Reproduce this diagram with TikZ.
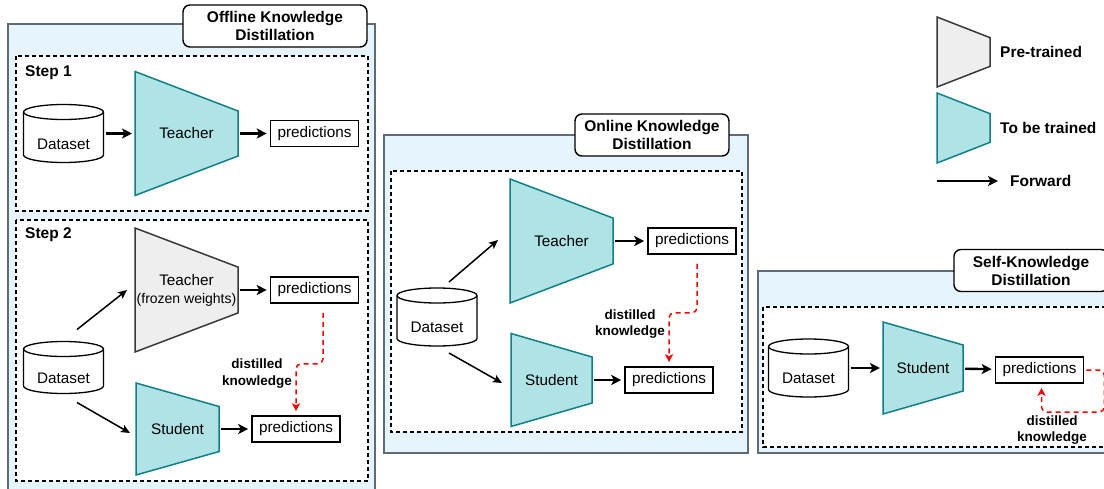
\documentclass[tikz,border=0pt]{standalone}
\usepackage{fontspec}
\setmainfont{Liberation Sans}
\usetikzlibrary{calc,arrows.meta}

\definecolor{tealfill}{HTML}{B0E3E6}
\definecolor{tealline}{HTML}{0E8088}
\definecolor{greyfill}{HTML}{EEEEEE}
\definecolor{greyline}{HTML}{36393D}
\definecolor{panelfill}{HTML}{E6F4FD}
\definecolor{panelline}{HTML}{5F6B75}

\pgfdeclarelayer{panel}
\pgfdeclarelayer{shape}
\pgfsetlayers{panel,shape,main}

% trapezoid behind a model node: #1 node, #2 right side / left side, #3 style
\newcommand\trap[3]{%
  \begin{pgfonlayer}{shape}
    \draw[#3] (#1.north west) -- ($(#1.east)!#2!(#1.north east)$)
      -- ($(#1.east)!#2!(#1.south east)$) -- (#1.south west) -- cycle;
  \end{pgfonlayer}}
% cylinder behind a dataset node
\newcommand\dbshape[1]{%
  \begin{pgfonlayer}{shape}
    \draw[line width=1.3,fill=white] ($(#1.north west)+(0,7.5)$) -- ($(#1.south west)+(0,-7.5)$)
      arc[start angle=180,end angle=0,x radius=40,y radius=7.5]
      -- ($(#1.north east)+(0,7.5)$)
      arc[start angle=0,end angle=-180,x radius=40,y radius=7.5] -- cycle;
    \draw[line width=1.3] ($(#1.north west)+(0,7.5)$)
      arc[start angle=180,end angle=0,x radius=40,y radius=7.5];
  \end{pgfonlayer}}

\tikzset{
  panel/.style={draw=panelline,fill=panelfill,line width=1.3},
  stepbox/.style={draw=black,fill=white,line width=1.4,dash pattern=on 4pt off 3pt},
  titlebox/.style={draw=black,fill=white,line width=1.4,rounded corners=7,
    minimum height=42,inner sep=0,align=center,font=\bfseries\fontsize{15.5}{18}\selectfont},
  steplabel/.style={anchor=west,inner sep=0,font=\bfseries\fontsize{15.5}{18}\selectfont},
  legendtext/.style={anchor=west,inner sep=0,font=\bfseries\fontsize{15.5}{18}\selectfont},
  note/.style={inner sep=0,align=center,font=\bfseries\fontsize{13.5}{16.5}\selectfont},
  model/.style={inner sep=0,outer sep=0,align=center},
  train/.style={draw=tealline,fill=tealfill,line width=1.5},
  frozen/.style={draw=greyline,fill=greyfill,line width=1.5},
  db/.style={inner sep=0,outer sep=0,minimum width=80,minimum height=58,
    text height=31pt,text depth=0pt},
  pred/.style={draw=black,line width=1.6,inner sep=0,minimum width=88,minimum height=26,
    text height=11pt,text depth=3.5pt},
  fwd/.style={line width=2.4,-{Stealth[length=10pt,width=10pt,inset=2.5pt]},
    shorten <=2,shorten >=3},
  feed/.style={line width=1.5,-{Stealth[length=9pt,width=8pt,inset=2pt]}},
  distil/.style={red,line width=1.5,dash pattern=on 5pt off 4pt,rounded corners=5,
    -{Stealth[length=8pt,width=8pt,inset=2pt]},shorten >=4}
}

\begin{document}
\begin{tikzpicture}[x=1pt,y=-1pt,font=\fontsize{15.3}{18}\selectfont]
  \clip (0,0) rectangle (1104,488);

  % panels and step frames
  \begin{pgfonlayer}{panel}
    \draw[panel] (8,24) rectangle (375,500);
    \draw[stepbox] (16,56) rectangle (368,211);
    \draw[stepbox] (16,220) rectangle (368,481);
    \draw[panel] (384,135) rectangle (748,453);
    \draw[stepbox] (391,171) rectangle (742,432);
    \draw[panel] (758,271) rectangle (1120,453);
    \draw[stepbox] (763,307) rectangle (1120,447);
  \end{pgfonlayer}

  \node[titlebox,minimum width=184] (offt) at (275,26) {Offline Knowledge\\Distillation};
  \node[titlebox,minimum width=154] (onlt) at (652,135) {Online Knowledge\\Distillation};
  \node[titlebox,minimum width=154] (selft) at (1031,270.5) {Self-Knowledge\\Distillation};

  % offline, step 1
  \node[steplabel] (st1) at (25,73) {Step 1};
  \node[db] (ds1) at (63.5,133.5) {Dataset};
  \dbshape{ds1}
  \node[model,minimum width=103,minimum height=124] (t1) at (186.5,133.5) {Teacher};
  \trap{t1}{0.363}{train}
  \node[pred] (p1) at (314.5,133.5) {predictions};
  \draw[fwd] (ds1) -- (t1);
  \draw[fwd] (t1) -- (p1);

  % offline, step 2
  \node[steplabel] (st2) at (25,235) {Step 2};
  \node[model,minimum width=103,minimum height=124] (t2) at (186.5,290)
    {Teacher\\{\fontsize{14}{18}\selectfont(frozen weights)}};
  \trap{t2}{0.37}{frozen}
  \node[pred] (p2) at (314.5,290) {predictions};
  \node[db,minimum height=52] (ds2) at (63.5,367.5) {Dataset};
  \dbshape{ds2}
  \node[model,minimum width=83,minimum height=92] (s2) at (177.5,429) {Student};
  \trap{s2}{0.49}{train}
  \node[pred] (p3) at (296,429) {predictions};
  \node[note] (dk1) at (257,373.5) {distilled\\knowledge};
  \draw[fwd] (t2) -- (p2);
  \draw[fwd] (s2) -- (p3);
  \draw[feed] ($(ds2.north)+(13.5,-12)$) -- ($(t2.west)+(-8,0)$);
  \draw[feed] ($(ds2.south)+(13.5,9)$) -- ($(s2.west)+(-6,4)$);
  \draw[distil] ($(p2.south)+(8.5,9)$) -- ++(0,51) -| (p3.north);

  % online
  \node[db] (ds3) at (437,317) {Dataset};
  \dbshape{ds3}
  \node[model,minimum width=103,minimum height=124] (t3) at (561.5,241) {Teacher};
  \trap{t3}{0.37}{train}
  \node[pred] (p4) at (692,241) {predictions};
  \node[model,minimum width=81,minimum height=93] (s3) at (551.5,380) {Student};
  \trap{s3}{0.495}{train}
  \node[pred] (p5) at (669,380) {predictions};
  \node[note] (dk2) at (630,324) {distilled\\knowledge};
  \draw[fwd] (t3) -- (p4);
  \draw[fwd] (s3) -- (p5);
  \draw[feed] ($(ds3.north)+(12,-6)$) -- ($(t3.west)+(-12,-1)$);
  \draw[feed] ($(ds3.south)+(12,7)$) -- ($(s3.west)+(-9,3)$);
  \draw[distil] ($(p4.south)+(5,9)$) -- ++(0,49) -| (p5.north);

  % self
  \node[db] (ds4) at (808.5,368) {Dataset};
  \dbshape{ds4}
  \node[model,minimum width=80,minimum height=92] (s4) at (923,368) {Student};
  \trap{s4}{0.5}{train}
  \node[pred] (p6) at (1039.5,370) {predictions};
  \node[note] (dk3) at (1052,430) {distilled\\knowledge};
  \draw[fwd] (ds4) -- (s4);
  \draw[fwd] (s4) -- (p6);
  \draw[distil,shorten <=2] (p6.east) -- ++(20,0) -- ++(0,42) -| ($(p6.south)+(2,0)$);

  % legend
  \node[model,minimum width=53,minimum height=70] (lg1) at (963.5,52) {};
  \trap{lg1}{0.41}{frozen}
  \node[legendtext] (lgt1) at (1000,52) {Pre-trained};
  \node[model,minimum width=53,minimum height=70] (lg2) at (963.5,128) {};
  \trap{lg2}{0.41}{train}
  \node[legendtext] (lgt2) at (1000,128) {To be trained};
  \node[legendtext] (lgt3) at (1010,181) {Forward};
  \coordinate (lgarr) at (937,181);
  \draw[fwd,shorten <=0,shorten >=12] (lgarr) -- (lgt3.west);
\end{tikzpicture}
\end{document}
